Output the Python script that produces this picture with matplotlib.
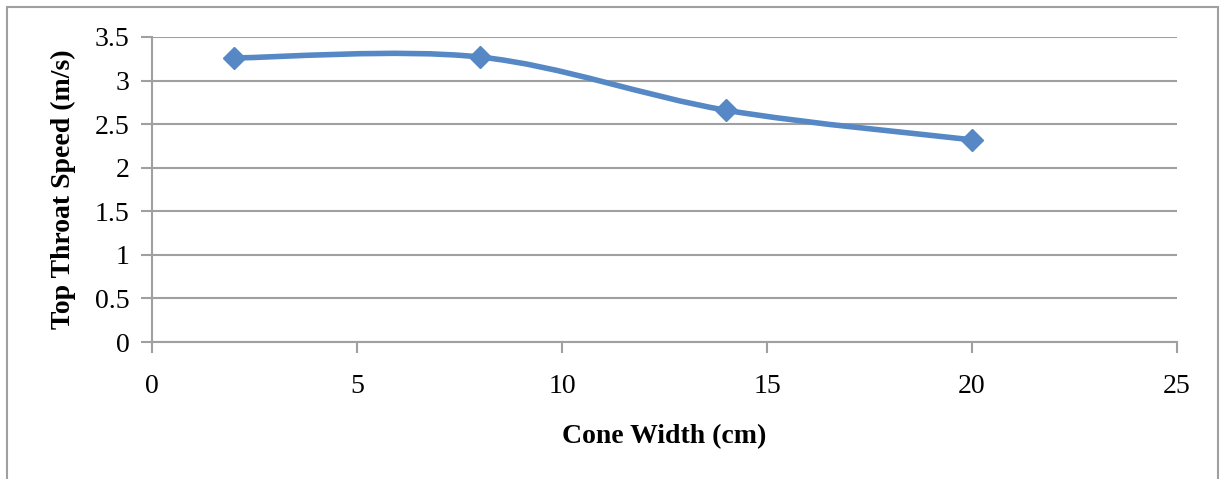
import matplotlib
matplotlib.use("Agg")
import matplotlib.pyplot as plt
from matplotlib.patches import Rectangle, PathPatch
from matplotlib.path import Path

cone_width = [2, 8, 14, 20]
throat_speed = [3.26, 3.27, 2.66, 2.32]

x_ticks = [0, 5, 10, 15, 20, 25]
y_ticks = [0, 0.5, 1, 1.5, 2, 2.5, 3, 3.5]

LINE_COLOR = "#5588C4"
GRID_COLOR = "#A0A0A0"

plt.rcParams["font.family"] = ["Liberation Serif", "DejaVu Serif"]


def smooth_path(xs, ys):
    # Excel-style smoothed line: cubic Bezier through the points
    pts = list(zip(xs, ys))
    verts = [pts[0]]
    codes = [Path.MOVETO]
    n = len(pts)
    for i in range(n - 1):
        p0 = pts[i - 1] if i > 0 else pts[i]
        p1 = pts[i]
        p2 = pts[i + 1]
        p3 = pts[i + 2] if i + 2 < n else pts[i + 1]
        c1 = (p1[0] + (p2[0] - p0[0]) / 6, p1[1] + (p2[1] - p0[1]) / 6)
        c2 = (p2[0] - (p3[0] - p1[0]) / 6, p2[1] - (p3[1] - p1[1]) / 6)
        verts += [c1, c2, p2]
        codes += [Path.CURVE4] * 3
    return Path(verts, codes)


fig = plt.figure(figsize=(12.2, 4.79), dpi=100)
ax = fig.add_axes([152 / 1220, 1 - 342 / 479, (1177 - 152) / 1220, (342 - 37) / 479])

fig.patches.append(Rectangle((7 / 1220, -0.1), (1218 - 7) / 1220, 1.1 - 7 / 479,
                             transform=fig.transFigure, fill=False,
                             edgecolor=GRID_COLOR, linewidth=1.5))

ax.add_patch(PathPatch(smooth_path(cone_width, throat_speed), fill=False,
                       edgecolor=LINE_COLOR, linewidth=4, capstyle="round", zorder=3))
ax.plot(cone_width, throat_speed, linestyle="none", marker="D", markersize=11,
        color=LINE_COLOR, zorder=4)

ax.set_xlim(0, 25)
ax.set_ylim(0, 3.5)
ax.set_xticks(x_ticks)
ax.set_yticks(y_ticks)
ax.set_xticklabels([str(v) for v in x_ticks])
ax.set_yticklabels([f"{v:g}" for v in y_ticks])

ax.grid(True, axis="y", color=GRID_COLOR, linewidth=1.5)
ax.set_axisbelow(True)
for side in ["top", "right"]:
    ax.spines[side].set_visible(False)
for side in ["left", "bottom"]:
    ax.spines[side].set_color(GRID_COLOR)
    ax.spines[side].set_linewidth(1.5)

ax.tick_params(axis="both", colors=GRID_COLOR, width=1.5, length=8, labelsize=20,
               labelcolor="black")
ax.tick_params(axis="x", pad=15)
ax.tick_params(axis="y", pad=8)

ax.set_xlabel("Cone Width (cm)", fontsize=20, fontweight="bold", labelpad=18)
ax.set_ylabel("Top Throat Speed (m/s)", fontsize=20, fontweight="bold", labelpad=14)

fig.savefig("out.png", dpi=100)
